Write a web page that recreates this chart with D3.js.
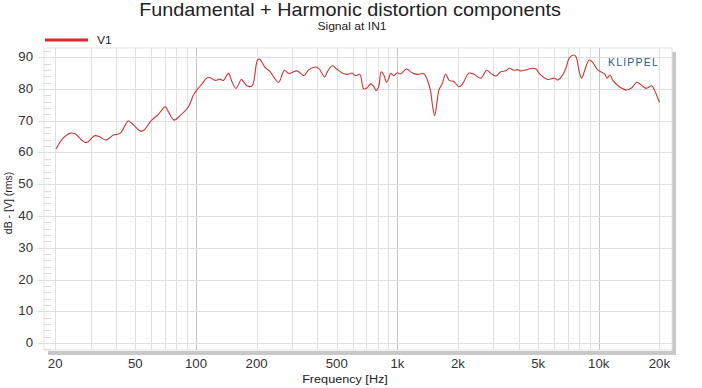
<!DOCTYPE html>
<html>
<head>
<meta charset="utf-8">
<script src="https://cdn.jsdelivr.net/npm/d3@7"></script>
<style>
  body { margin: 0; background: #fff; }
  text { font-family: "Liberation Sans", Arial, sans-serif; }
</style>
</head>
<body>
<div id="chart"></div>
<script>
// values (Hz / dB)
var freqs = [20.2, 21.9, 23.9, 25.1, 28.4, 31.5, 33.1, 35.8, 38.9, 42,
  46.1, 48, 52.8, 54.8, 60.3, 65.1, 70.3, 73, 77.9, 83.4,
  91.8, 97.2, 101, 107, 115, 125, 131, 137, 145, 151,
  158, 168, 172, 180, 190, 202, 207, 221, 234, 257,
  275, 289, 318, 343, 363, 392, 407, 436, 448, 475,
  502, 532, 563, 597, 619, 651, 681, 709, 736, 764,
  788, 809, 832, 857, 884, 907, 925, 961, 999, 1037,
  1111, 1186, 1256, 1355, 1409, 1463, 1497, 1532, 1567, 1609,
  1673, 1737, 1804, 1911, 2023, 2103, 2269, 2403, 2594, 2779,
  2909, 3081, 3262, 3454, 3587, 3798, 3949, 4104, 4345, 4690,
  4900, 5058, 5569, 6006, 6244, 6612, 6867, 7132, 7467, 7703,
  7998, 8220, 8470, 8967, 9326, 9875, 10337, 10737, 10985, 11368,
  11727, 12647, 13655, 14460, 15488, 16218, 17171, 18335, 18887, 20000]
var levels = [61.1, 64.5, 66.1, 65.9, 63.1, 65.3, 65.0, 63.9, 65.5, 66.0,
  69.9, 69.2, 66.8, 66.9, 70.2, 72.0, 74.4, 72.8, 70.2, 71.6,
  74.4, 78.1, 79.7, 81.5, 83.7, 82.7, 83.1, 82.7, 84.9, 82.3,
  80.2, 83.0, 82.3, 80.9, 81.0, 89.1, 89.4, 86.7, 85.4, 82.1,
  85.9, 84.9, 85.7, 84.2, 86.0, 86.9, 86.5, 83.8, 85.3, 87.3,
  86.2, 85.0, 84.6, 85.0, 84.2, 84.6, 80.0, 80.4, 81.6, 80.7,
  79.5, 81.0, 85.4, 84.4, 82.1, 83.4, 84.9, 84.2, 85.1, 84.7,
  86.3, 85.0, 84.6, 84.8, 82.8, 79.2, 74.4, 71.6, 75.0, 79.7,
  81.8, 84.7, 82.8, 82.3, 80.7, 81.5, 85.0, 84.6, 83.4, 85.9,
  84.9, 84.1, 85.4, 85.7, 86.5, 85.9, 86.1, 85.7, 86.0, 86.5,
  86.2, 84.9, 83.0, 83.4, 82.8, 84.4, 86.5, 89.7, 90.7, 90.2,
  85.4, 83.4, 85.4, 89.1, 88.4, 86.0, 85.3, 84.6, 83.4, 84.4,
  82.8, 80.7, 79.7, 80.2, 82.1, 81.3, 80.2, 81.0, 79.7, 75.8]

var gridFreqs = [20, 30, 40, 50, 60, 70, 80, 90, 100, 200, 300, 400, 500, 600, 700, 800, 900,
  1000, 2000, 3000, 4000, 5000, 6000, 7000, 8000, 9000, 10000, 20000]
var freqTicks = [20, 50, 100, 200, 500, 1000, 2000, 5000, 10000, 20000]
var freqTickLabels = ["20", "50", "100", "200", "500", "1k", "2k", "5k", "10k", "20k"]
var dbTicks = [0, 10, 20, 30, 40, 50, 60, 70, 80, 90]

function drawChart() {
  var width = 702, height = 388
  var left = 44, right = 672, top = 48, bottom = 350
  var sx = 1.1   // the reference text is a bit wide

  var svg = d3.select("#chart").append("svg")
    .attr("width", width)
    .attr("height", height)

  var x = d3.scaleLog().domain([17.6, 23100]).range([left, right])
  var y = d3.scaleLinear().domain([-2.2, 92.9]).range([bottom, top])

  function label(txt, px, py, size, anchor, fill) {
    return svg.append("text")
      .attr("transform", "translate(" + px + "," + py + ") scale(" + sx + ",1)")
      .attr("text-anchor", anchor)
      .attr("font-size", size)
      .attr("fill", fill || "#333")
      .text(txt)
  }

  // drop shadow of the plot frame
  svg.append("rect").attr("x", right).attr("y", top + 4).attr("width", 4).attr("height", bottom - top + 1)
    .attr("fill", "#c8c8c8")
  svg.append("rect").attr("x", left + 4).attr("y", bottom + 1).attr("width", right - left).attr("height", 4)
    .attr("fill", "#c8c8c8")

  svg.append("rect")
    .attr("x", left).attr("y", top)
    .attr("width", right - left).attr("height", bottom - top)
    .attr("fill", "#fff").attr("stroke", "#e2e2e2")

  // grid
  svg.append("g").selectAll("line").data(gridFreqs).join("line")
    .attr("x1", d => Math.round(x(d)) + 0.5).attr("x2", d => Math.round(x(d)) + 0.5)
    .attr("y1", top).attr("y2", bottom)
    .attr("stroke", d => (d === 100 || d === 1000 || d === 10000) ? "#c4c4c4" : "#e0e0e0")

  svg.append("g").selectAll("line").data(dbTicks).join("line")
    .attr("x1", left - 6).attr("x2", right)
    .attr("y1", d => Math.round(y(d)) + 0.5).attr("y2", d => Math.round(y(d)) + 0.5)
    .attr("stroke", "#e0e0e0")

  // minor y ticks every 2 dB
  svg.append("g").selectAll("line").data(d3.range(-2, 93, 2).filter(d => d % 10 !== 0)).join("line")
    .attr("x1", left).attr("x2", left + 7)
    .attr("y1", d => Math.round(y(d)) + 0.5).attr("y2", d => Math.round(y(d)) + 0.5)
    .attr("stroke", "#dadada")

  // the curve
  var pts = freqs.map((f, i) => [f, levels[i]])
  var line = d3.line()
    .x(d => x(d[0]))
    .y(d => y(d[1]))
    .curve(d3.curveCatmullRom.alpha(0.5))

  svg.append("path")
    .datum(pts)
    .attr("d", line)
    .attr("fill", "none")
    .attr("stroke", "#cc3535")
    .attr("stroke-width", 1.1)

  // tick labels
  dbTicks.forEach(function(d) { label(d, 33, y(d) + 4, 12, "end", "#333") })
  freqTicks.forEach(function(d, i) { label(freqTickLabels[i], x(d), 368, 12, "middle", "#333") })

  // titles
  label("Fundamental + Harmonic distortion components", 350, 16, 18, "middle", "#222")
  label("Signal at IN1", 352, 30, 11, "middle", "#222")
  label("Frequency [Hz]", 345, 383, 11.5, "middle", "#222")

  svg.append("text")
    .attr("transform", "translate(12,203) rotate(-90)")
    .attr("text-anchor", "middle")
    .attr("font-size", 10.5)
    .attr("fill", "#222")
    .text("dB - [V] (rms)")

  // legend
  svg.append("line").attr("x1", 45).attr("x2", 88).attr("y1", 40).attr("y2", 40)
    .attr("stroke", "#e3262a").attr("stroke-width", 3)
  label("V1", 97, 44, 11, "start", "#222")

  svg.append("text")
    .attr("x", 608).attr("y", 66)
    .attr("font-size", 10.5)
    .attr("letter-spacing", 1.2)
    .attr("fill", "#34558f")
    .text("KLIPPEL")
}

drawChart()
</script>
</body>
</html>
